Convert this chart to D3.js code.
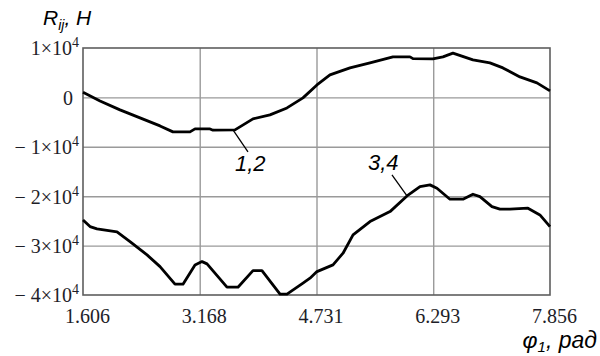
<!DOCTYPE html>
<html>
<head>
<meta charset="utf-8">
<script src="https://cdn.jsdelivr.net/npm/d3@7"></script>
<style>
  html, body { margin: 0; padding: 0; background: #fff; }
  svg { display: block; }
  .ytick, .ytick tspan { font-family: 'Liberation Serif', 'Times New Roman', serif; }
</style>
</head>
<body>
<svg id="chart" width="600" height="356"></svg>
<script>
// Rotation angle φ1 (rad) for the reaction curves
const phi12 = [1.606,1.834,2.101,2.369,2.637,2.810,3.038,3.105,3.306,3.346,3.640,3.881,4.108,4.336,4.550,4.737,4.911,5.179,5.447,5.754,5.982,6.022,6.289,6.423,6.557,6.825,7.052,7.226,7.454,7.681,7.856];
// Reaction R (N) for supports 1,2
const R12 = [1050,-710,-2530,-4150,-5770,-6980,-6980,-6380,-6380,-6640,-6580,-4350,-3540,-2130,-100,2530,4550,5970,6980,8200,8200,7850,7790,8200,8950,7590,6980,5970,4150,2940,1320];

const phi34 = [1.606,1.700,1.793,2.061,2.235,2.463,2.637,2.837,2.944,3.105,3.199,3.266,3.533,3.680,3.881,4.001,4.243,4.336,4.550,4.644,4.737,4.952,5.086,5.220,5.447,5.715,5.942,6.116,6.250,6.343,6.517,6.691,6.825,6.918,7.079,7.186,7.320,7.561,7.721,7.856];
// Reaction R (N) for supports 3,4
const R34 = [-24800,-26150,-26620,-27230,-29190,-31880,-34250,-37810,-37810,-33910,-33240,-33700,-38420,-38420,-35060,-35060,-39840,-39840,-37610,-36600,-35260,-33910,-31540,-27830,-25140,-23120,-19940,-18060,-17710,-18380,-20610,-20610,-19600,-20080,-22100,-22630,-22630,-22430,-23790,-26150];

// Axis ticks
const xTicks = [1.606, 3.168, 4.731, 6.293, 7.856];
const xTickLabels = ["1.606", "3.168", "4.731", "6.293", "7.856"];
const yTicks = [10000, 0, -10000, -20000, -30000, -40000];
const yTickMantissa = ["1", "0", "\u2212 1", "\u2212 2", "\u2212 3", "\u2212 4"];

// Curve labels: text, leader start (on curve), leader end
const curveLabels = ["1,2", "3,4"];
const leaderFrom = [[3.613, -6580], [5.942, -19940]];
const leaderTo = [[3.814, -11030], [5.741, -15690]];
const labelAt = [[3.64, -14880], [5.42, -14680]];

const svg = d3.select("#chart");
const margin = { left: 83, top: 48, right: 50, bottom: 61 };
const W = 600 - margin.left - margin.right;
const H = 356 - margin.top - margin.bottom;

const x = d3.scaleLinear().domain([1.606, 7.856]).range([0, W]);
const y = d3.scaleLinear().domain([-40000, 10000]).range([H, 0]);

const g = svg.append("g").attr("transform", `translate(${margin.left},${margin.top})`);

const serif = "'Liberation Serif', 'Times New Roman', serif";
const sans = "'Liberation Sans', Arial, sans-serif";

// Grid
g.append("g")
  .attr("class", "xgrid")
  .attr("transform", `translate(0,${H})`)
  .call(d3.axisBottom(x).tickValues(xTicks.slice(1, -1)).tickSize(-H).tickFormat(""))
  .call(s => s.select(".domain").remove())
  .call(s => s.selectAll("line").attr("stroke", "#9a9a9a").attr("stroke-width", 1.4));

g.append("g")
  .attr("class", "ygrid")
  .call(d3.axisLeft(y).tickValues(yTicks.slice(1, -1)).tickSize(-W).tickFormat(""))
  .call(s => s.select(".domain").remove())
  .call(s => s.selectAll("line").attr("stroke", "#9a9a9a").attr("stroke-width", 1.4));

// Frame
g.append("rect")
  .attr("x", 0).attr("y", 0).attr("width", W).attr("height", H)
  .attr("fill", "none").attr("stroke", "#5e5e5e").attr("stroke-width", 1.6);

// X tick labels
const xAxis = g.append("g")
  .attr("transform", `translate(0,${H})`)
  .call(d3.axisBottom(x).tickValues(xTicks).tickSize(0).tickFormat((d, i) => xTickLabels[i]));
xAxis.select(".domain").remove();
xAxis.selectAll("text")
  .attr("y", 28).attr("dy", 0).attr("dx", 4)
  .style("font-family", serif)
  .style("font-size", "20px").attr("fill", "#1e1e28");

// Y tick labels with powers of ten
const yAxis = g.append("g")
  .call(d3.axisLeft(y).tickValues(yTicks).tickSize(0).tickFormat(""));
yAxis.select(".domain").remove();
yAxis.selectAll(".tick text").each(function (d, i) {
  const t = d3.select(this)
    .attr("class", "ytick")
    .attr("x", d === 0 ? -10 : -4).attr("dy", "0.34em")
    .attr("text-anchor", "end")
    .style("font-family", serif)
    .style("font-size", "20px").attr("fill", "#1e1e28");
  if (d === 0) {
    t.text("0");
  } else {
    t.append("tspan").style("font-family", serif).text(yTickMantissa[i] + "\u00d710");
    t.append("tspan").attr("dy", -8).style("font-family", serif).style("font-size", "14px").text("4");
  }
});

// Curves
const line = d3.line().x(d => x(d[0])).y(d => y(d[1])).curve(d3.curveLinear);
const series = [d3.zip(phi12, R12), d3.zip(phi34, R34)];
g.selectAll("path.curve")
  .data(series)
  .join("path")
  .attr("class", "curve")
  .attr("d", line)
  .attr("fill", "none")
  .attr("stroke", "#000")
  .attr("stroke-width", 2.8)
  .attr("stroke-linejoin", "round");

// Curve labels with leaders
curveLabels.forEach((lab, i) => {
  g.append("line")
    .attr("x1", x(leaderFrom[i][0])).attr("y1", y(leaderFrom[i][1]))
    .attr("x2", x(leaderTo[i][0])).attr("y2", y(leaderTo[i][1]))
    .attr("stroke", "#000").attr("stroke-width", 1.3);
  g.append("text")
    .attr("x", x(labelAt[i][0])).attr("y", y(labelAt[i][1]))
    .style("font-family", sans)
    .style("font-style", "italic").style("font-size", "22px").attr("fill", "#000")
    .text(lab);
});

// Axis titles
const title = svg.append("text")
  .attr("x", 43).attr("y", 25)
  .style("font-family", sans)
  .style("font-style", "italic").style("font-size", "21px").attr("fill", "#000");
title.append("tspan").text("R");
title.append("tspan").style("font-size", "14px").attr("dy", 5).text("ij");
title.append("tspan").attr("dy", -5).text(", H");

const xt = svg.append("text")
  .attr("x", 597).attr("y", 348).attr("text-anchor", "end")
  .style("font-family", sans)
  .style("font-style", "italic").style("font-size", "23px").attr("fill", "#000");
xt.append("tspan").text("\u03c6");
xt.append("tspan").style("font-size", "15px").attr("dy", 4).text("1");
xt.append("tspan").attr("dy", -4).text(", \u0440\u0430\u0434");
</script>
</body>
</html>
